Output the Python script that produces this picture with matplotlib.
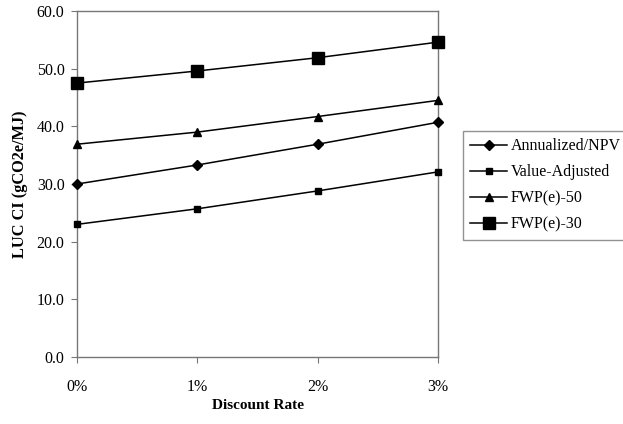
import matplotlib.pyplot as plt

rates = ["0%", "1%", "2%", "3%"]
annualized = [30.0, 33.3, 36.9, 40.7]
value_adjusted = [23.0, 25.7, 28.8, 32.1]
fwp50 = [36.9, 39.0, 41.7, 44.5]
fwp30 = [47.5, 49.6, 51.9, 54.6]

plt.rcParams['font.family'] = ['Liberation Serif', 'DejaVu Serif']

fig = plt.figure(figsize=(6.23, 4.24), dpi=100)
ax = fig.add_axes([77 / 623, 1 - 357 / 424, (438 - 77) / 623, (357 - 11) / 424])

x = range(len(rates))
style = dict(color="black", lw=1.1, clip_on=False, zorder=3)
ax.plot(x, annualized, marker="D", ms=5, label="Annualized/NPV", **style)
ax.plot(x, value_adjusted, marker="s", ms=5, label="Value-Adjusted", **style)
ax.plot(x, fwp50, marker="^", ms=6, label="FWP(e)-50", **style)
ax.plot(x, fwp30, marker="s", ms=8.5, label="FWP(e)-30", **style)

ax.set_xlim(0, 3)
ax.set_ylim(0, 60)
ax.set_xticks(list(x))
ax.set_xticklabels(rates)
ax.set_yticks(range(0, 61, 10))
ax.set_yticklabels([f"{v:.1f}" for v in range(0, 61, 10)])
ax.tick_params(labelsize=11.5, length=4, color="#777777")
ax.tick_params(axis="x", pad=12)
ax.tick_params(axis="y", pad=5)
for s in ax.spines.values():
    s.set_color("#777777")
    s.set_linewidth(1.0)

ax.set_xlabel("Discount Rate", fontsize=11, fontweight="bold", labelpad=3)
ax.set_ylabel("LUC CI (gCO2e/MJ)", fontsize=11.8, fontweight="bold", labelpad=6)

leg = ax.legend(loc="upper left", bbox_to_anchor=(463 / 623, 1 - 131 / 424),
                bbox_transform=fig.transFigure, fontsize=11.5, frameon=True,
                fancybox=False, edgecolor="#777777", handlelength=2.3,
                handletextpad=0.25, labelspacing=0.63, borderaxespad=0,
                borderpad=0.45)
leg.get_frame().set_linewidth(1.0)

fig.savefig("out.png", dpi=100)
